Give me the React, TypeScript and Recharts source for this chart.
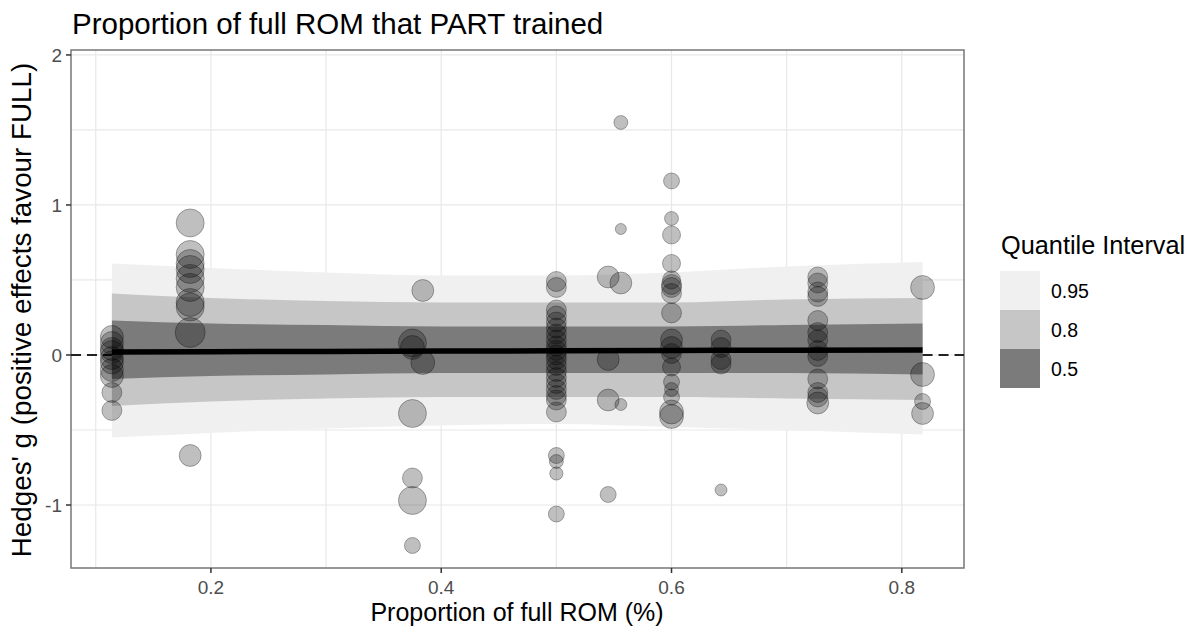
import {
  ComposedChart,
  Area,
  Line,
  Scatter,
  XAxis,
  YAxis,
  ZAxis,
  CartesianGrid,
  ReferenceLine,
  ReferenceArea,
} from 'recharts'

// fitted line + quantile ribbons, read at a handful of x positions
const bandX = [0.114, 0.2, 0.3, 0.4, 0.5, 0.6, 0.7, 0.818]
const fitG = [0.02, 0.022, 0.024, 0.026, 0.028, 0.03, 0.032, 0.034]
const lo95 = [-0.55, -0.52, -0.49, -0.47, -0.46, -0.48, -0.5, -0.53]
const hi95 = [0.61, 0.58, 0.55, 0.53, 0.53, 0.55, 0.59, 0.62]
const lo80 = [-0.34, -0.31, -0.29, -0.28, -0.28, -0.28, -0.29, -0.3]
const hi80 = [0.41, 0.38, 0.36, 0.35, 0.35, 0.35, 0.37, 0.38]
const lo50 = [-0.16, -0.14, -0.13, -0.12, -0.12, -0.12, -0.12, -0.13]
const hi50 = [0.23, 0.21, 0.2, 0.19, 0.19, 0.19, 0.2, 0.21]

// individual effects, grouped by the proportion of ROM trained
const studyX = [0.114, 0.182, 0.375, 0.384, 0.5, 0.545, 0.556, 0.6, 0.643, 0.727, 0.818]
const effects = [
  [0.12, 0.08, 0.04, 0.02, -0.02, -0.05, -0.1, -0.14, -0.25, -0.37],
  [0.88, 0.67, 0.61, 0.57, 0.51, 0.45, 0.35, 0.32, 0.15, -0.67],
  [0.08, 0.05, -0.39, -0.82, -0.97, -1.27],
  [0.43, -0.05],
  [0.49, 0.45, 0.3, 0.26, 0.22, 0.18, 0.14, 0.1, 0.06, 0.03, 0.0, -0.03, -0.07, -0.11, -0.15, -0.19, -0.23, -0.27, -0.3, -0.38, -0.67, -0.71, -0.79, -1.06],
  [0.52, -0.03, -0.3, -0.93],
  [1.55, 0.84, 0.48, -0.33],
  [1.16, 0.91, 0.8, 0.61, 0.5, 0.47, 0.45, 0.41, 0.28, 0.1, 0.05, 0.01, -0.08, -0.18, -0.23, -0.28, -0.38, -0.41],
  [0.1, 0.05, -0.03, -0.06, -0.9],
  [0.52, 0.48, 0.42, 0.39, 0.23, 0.15, 0.1, 0.03, -0.01, -0.16, -0.25, -0.28, -0.32],
  [0.45, -0.13, -0.31, -0.39],
]
const weights = [
  [5.2, 5.2, 5.2, 5.2, 5.2, 5.2, 5.2, 5.2, 3.9, 3.9],
  [7.7, 7.7, 7.7, 7.7, 7.7, 7.7, 7.7, 7.7, 8.8, 4.7],
  [7.7, 5.6, 7.7, 3.9, 7.7, 2.5],
  [4.7, 5.6],
  [3.9, 3.9, 3.9, 3.9, 3.9, 3.9, 3.9, 3.9, 3.9, 3.9, 3.9, 3.9, 3.9, 3.9, 3.9, 3.9, 3.9, 3.9, 3.9, 3.9, 2.5, 1.9, 1.7, 2.5],
  [4.7, 4.7, 4.7, 2.5],
  [1.9, 1.2, 4.7, 1.4],
  [2.5, 1.9, 3.2, 3.2, 3.2, 3.9, 3.9, 3.9, 3.9, 4.7, 4.7, 3.9, 3.2, 2.5, 1.9, 2.5, 5.6, 5.6],
  [3.9, 3.9, 3.9, 3.9, 1.4],
  [3.9, 3.9, 3.9, 3.9, 3.9, 3.9, 3.9, 3.9, 3.9, 3.9, 3.9, 3.9, 4.7],
  [5.6, 5.6, 2.5, 4.7],
]

const xTicks = [0.2, 0.4, 0.6, 0.8]
const yTicks = [-1, 0, 1, 2]
const xGrid = [0.1, 0.2, 0.3, 0.4, 0.5, 0.6, 0.7, 0.8]
const yGrid = [-1, -0.5, 0, 0.5, 1, 1.5, 2]

const legendItems = [
  { label: '0.95', color: '#f0f0f0' },
  { label: '0.8', color: '#c6c6c6' },
  { label: '0.5', color: '#7b7b7b' },
]

const X_DOMAIN: [number, number] = [0.0785, 0.854]
const Y_DOMAIN: [number, number] = [-1.42, 2.033]
const FONT = '"Liberation Sans", Arial, sans-serif'

const bandRows = bandX.map((x, i) => ({
  x,
  fit: fitG[i],
  q95: [lo95[i], hi95[i]],
  q80: [lo80[i], hi80[i]],
  q50: [lo50[i], hi50[i]],
}))

const points = studyX.flatMap((x, i) =>
  effects[i].map((y, j) => ({ x, y, z: weights[i][j] }))
)

const tickStyle = { fontSize: 19, fill: '#4d4d4d', fontFamily: FONT }

export default function App() {
  const bandStart = bandX[0]
  const bandEnd = bandX[bandX.length - 1]
  return (
    <div
      style={{
        position: 'absolute',
        left: 0,
        top: 0,
        width: 1189,
        height: 632,
        background: '#fff',
        fontFamily: FONT,
      }}
    >
      <div
        style={{
          position: 'absolute',
          left: 72,
          top: 9,
          fontSize: 29.5,
          lineHeight: '29.5px',
          color: '#000',
          whiteSpace: 'nowrap',
        }}
      >
        Proportion of full ROM that PART trained
      </div>

      <ComposedChart
        width={1189}
        height={632}
        data={bandRows}
        margin={{ top: 50, right: 225, bottom: 24, left: 11 }}
      >
        <CartesianGrid
          stroke="#e8e8e8"
          strokeWidth={1.2}
          verticalValues={xGrid}
          horizontalValues={yGrid}
        />
        <XAxis
          type="number"
          dataKey="x"
          domain={X_DOMAIN}
          allowDataOverflow
          ticks={xTicks}
          tickFormatter={(v) => String(v)}
          tick={tickStyle}
          tickSize={5}
          tickMargin={8}
          tickLine={{ stroke: '#333', strokeWidth: 1.5 }}
          axisLine={false}
          height={40}
        />
        <YAxis
          type="number"
          dataKey="y"
          domain={Y_DOMAIN}
          allowDataOverflow
          ticks={yTicks}
          tick={tickStyle}
          tickSize={5}
          tickMargin={4}
          tickLine={{ stroke: '#333', strokeWidth: 1.5 }}
          axisLine={false}
          width={60}
        />
        <ZAxis type="number" dataKey="z" domain={[0, 10]} range={[0, 800]} />
        <Area
          type="monotone"
          dataKey="q95"
          fill="#f0f0f0"
          fillOpacity={1}
          stroke="none"
          isAnimationActive={false}
          activeDot={false}
        />
        <Area
          type="monotone"
          dataKey="q80"
          fill="#c6c6c6"
          fillOpacity={1}
          stroke="none"
          isAnimationActive={false}
          activeDot={false}
        />
        <Area
          type="monotone"
          dataKey="q50"
          fill="#7b7b7b"
          fillOpacity={1}
          stroke="none"
          isAnimationActive={false}
          activeDot={false}
        />
        {/* dashed zero line only shows outside the ribbons */}
        <ReferenceLine
          segment={[
            { x: X_DOMAIN[0], y: 0 },
            { x: bandStart, y: 0 },
          ]}
          stroke="#222"
          strokeWidth={2}
          strokeDasharray="10 6"
        />
        <ReferenceLine
          segment={[
            { x: bandEnd, y: 0 },
            { x: X_DOMAIN[1], y: 0 },
          ]}
          stroke="#222"
          strokeWidth={2}
          strokeDasharray="10 6"
        />
        <Line
          type="monotone"
          dataKey="fit"
          stroke="#000"
          strokeWidth={5.5}
          dot={false}
          activeDot={false}
          isAnimationActive={false}
        />
        <Scatter
          data={points}
          shape="circle"
          fill="#000"
          fillOpacity={0.25}
          stroke="#000"
          strokeOpacity={0.3}
          strokeWidth={1}
          isAnimationActive={false}
        />
        <ReferenceArea
          x1={X_DOMAIN[0]}
          x2={X_DOMAIN[1]}
          y1={Y_DOMAIN[0]}
          y2={Y_DOMAIN[1]}
          fill="none"
          stroke="#777"
          strokeWidth={1.5}
        />
      </ComposedChart>

      <div
        style={{
          position: 'absolute',
          left: 517,
          top: 600,
          transform: 'translateX(-50%)',
          fontSize: 25,
          lineHeight: '25px',
          whiteSpace: 'nowrap',
          color: '#000',
        }}
      >
        Proportion of full ROM (%)
      </div>

      <div
        style={{
          position: 'absolute',
          left: 22,
          top: 310,
          transform: 'translate(-50%, -50%) rotate(-90deg)',
          fontSize: 27.8,
          lineHeight: '27.8px',
          whiteSpace: 'nowrap',
          color: '#000',
        }}
      >
        Hedges' g (positive effects favour FULL)
      </div>

      <div style={{ position: 'absolute', left: 1000, top: 233 }}>
        <div
          style={{
            fontSize: 25.3,
            lineHeight: '25px',
            marginLeft: 1,
            marginBottom: 13,
            whiteSpace: 'nowrap',
          }}
        >
          Quantile Interval
        </div>
        {legendItems.map((it) => (
          <div
            key={it.label}
            style={{ display: 'flex', alignItems: 'center', height: 39 }}
          >
            <div style={{ width: 40, height: 39, background: it.color }} />
            <span
              style={{
                marginLeft: 11,
                fontSize: 19.5,
                lineHeight: '20px',
                color: '#000',
              }}
            >
              {it.label}
            </span>
          </div>
        ))}
      </div>
    </div>
  )
}
